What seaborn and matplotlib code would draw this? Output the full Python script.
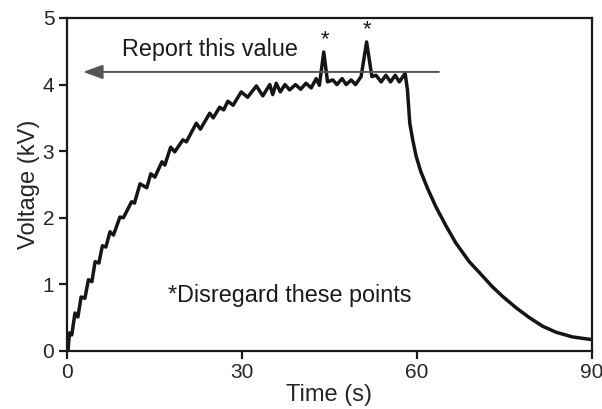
import matplotlib
matplotlib.use("Agg")
import matplotlib.pyplot as plt
import pandas as pd
import seaborn as sns

# voltage trace (vertices of the sawtooth + decay)
time_s = [0.2, 0.45, 0.85, 1.4, 1.9, 2.45, 3.1, 3.7, 4.3, 4.85, 5.5, 6.1, 6.7, 7.4, 8.0,
          9.1, 9.7, 11.1, 11.6, 12.55, 13.7, 14.4, 15.1, 16.3, 16.8, 17.8, 18.5, 19.9, 20.5,
          22.2, 22.9, 24.5, 25.1, 26.2, 26.9, 27.6, 28.5, 29.9, 31.0, 32.5, 33.6, 34.8, 35.3,
          35.9, 36.6, 37.4, 38.2, 39.2, 40.1, 41.0, 41.9, 42.75, 43.3, 44.05, 44.7, 45.6,
          46.3, 47.2, 47.9, 48.75, 49.5, 50.45, 51.4, 52.3, 53.0, 53.9, 54.7, 55.5, 56.3,
          57.0, 58.0, 58.4, 58.8, 59.3, 59.9, 60.7, 61.9, 63.3, 65.0, 66.7, 69.0, 70.7, 73.0,
          74.7, 77.0, 79.3, 81.6, 83.9, 86.7, 90.0]
voltage_kv = [0.0, 0.27, 0.24, 0.57, 0.51, 0.81, 0.79, 1.07, 1.04, 1.34, 1.32, 1.58, 1.56,
              1.79, 1.74, 2.01, 2.0, 2.24, 2.22, 2.51, 2.45, 2.66, 2.61, 2.84, 2.79, 3.06,
              2.99, 3.17, 3.14, 3.42, 3.33, 3.57, 3.5, 3.66, 3.62, 3.75, 3.69, 3.89, 3.81,
              3.98, 3.83, 4.0, 3.85, 4.02, 3.89, 4.0, 3.92, 4.0, 3.93, 4.02, 3.95, 4.09, 3.99,
              4.49, 4.04, 4.07, 4.0, 4.09, 4.0, 4.07, 4.0, 4.12, 4.64, 4.12, 4.14, 4.04, 4.14,
              4.04, 4.14, 4.04, 4.17, 3.92, 3.42, 3.17, 2.92, 2.69, 2.43, 2.16, 1.88, 1.62,
              1.34, 1.18, 0.96, 0.82, 0.65, 0.5, 0.37, 0.28, 0.21, 0.17]

report_value = 4.19
report_span = (63.8, 2.8)
spike_marks = [(44.2, 4.52), (51.5, 4.67)]
x_ticks = [0, 30, 60, 90]
y_ticks = [0, 1, 2, 3, 4, 5]

df = pd.DataFrame({"time": time_s, "voltage": voltage_kv})

sns.set_style("ticks")
plt.rcParams["font.family"] = ["Liberation Sans", "DejaVu Sans"]

fig, ax = plt.subplots(figsize=(6.02, 4.09), dpi=100)
fig.subplots_adjust(left=0.111, right=0.983, bottom=0.142, top=0.956)

sns.lineplot(data=df, x="time", y="voltage", ax=ax, color="#151515", lw=2.5,
             sort=False, estimator=None)

ax.annotate("", xy=(report_span[1], report_value), xytext=(report_span[0], report_value),
            arrowprops=dict(arrowstyle="-|>,head_length=0.6,head_width=0.22",
                            color="#555555", lw=1.4, mutation_scale=20,
                            shrinkA=0, shrinkB=0))
ax.text(9.4, 4.53, "Report this value", fontsize=16.8, ha="left", va="center", color="#1a1a1a")
for tx, ty in spike_marks:
    ax.text(tx, ty, "*", fontsize=16, ha="center", va="bottom", color="#1a1a1a")
ax.text(17.3, 0.83, "*Disregard these points", fontsize=16.8, ha="left", va="center",
        color="#1a1a1a")

ax.set_xlim(0, 90)
ax.set_ylim(0, 5)
ax.set_xticks(x_ticks)
ax.set_yticks(y_ticks)
ax.set_xlabel("Time (s)", fontsize=17, labelpad=1)
ax.set_ylabel("Voltage (kV)", fontsize=17, labelpad=2)
ax.tick_params(labelsize=15, length=6, width=1.6, color="#1a1a1a", pad=3)
for side in ["left", "right", "top", "bottom"]:
    ax.spines[side].set_visible(True)
    ax.spines[side].set_linewidth(1.6)
    ax.spines[side].set_color("#1a1a1a")

fig.savefig("out.png", dpi=100)
